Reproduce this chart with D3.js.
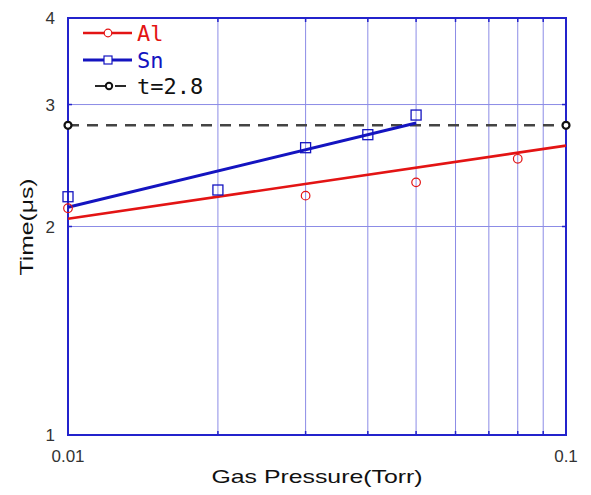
<!DOCTYPE html>
<html>
<head>
<meta charset="utf-8">
<script src="https://cdn.jsdelivr.net/npm/d3@7"></script>
<style>
  html, body { margin: 0; padding: 0; background: #fff; }
  svg { display: block; }
</style>
</head>
<body>
<svg id="chart" width="591" height="495"></svg>
<script>
// Measured points
const alPressure = [0.01, 0.03, 0.05, 0.08];
const alTime = [2.125, 2.216, 2.316, 2.505];
const snPressure = [0.01, 0.02, 0.03, 0.04, 0.05];
const snTime = [2.208, 2.258, 2.599, 2.714, 2.897];

// Power-law fit lines (straight on log-log axes)
const alFitPressure = [0.01, 0.1];
const alFitTime = [2.052, 2.617];
const snFitPressure = [0.01, 0.05];
const snFitTime = [2.132, 2.821];

// Reference level
const refPressure = [0.01, 0.1];
const refTime = [2.8, 2.8];

// Axes
const xDomain = [0.01, 0.1];
const yDomain = [1, 4];
const xGrid = [0.02, 0.03, 0.04, 0.05, 0.06, 0.07, 0.08, 0.09];
const yGrid = [2, 3];
const xTickLabels = [0.01, 0.1];
const yTickLabels = [1, 2, 3, 4];

const legendLabels = ["Al", "Sn", "t=2.8"];

const svg = d3.select("#chart");
const L = 68, R = 566, T = 18, B = 435;

const x = d3.scaleLog().domain(xDomain).range([L, R]);
const y = d3.scaleLog().domain(yDomain).range([B, T]);

const frameColor = "#2323cc";
const gridColor = "#8c8ce6";
const red = "#e31414";
const blue = "#1414c0";

// Grid
svg.append("g").selectAll("line").data(xGrid).join("line")
  .attr("x1", d => x(d)).attr("x2", d => x(d))
  .attr("y1", T).attr("y2", B)
  .attr("stroke", gridColor).attr("stroke-width", 1);
svg.append("g").selectAll("line").data(yGrid).join("line")
  .attr("x1", L).attr("x2", R)
  .attr("y1", d => y(d)).attr("y2", d => y(d))
  .attr("stroke", gridColor).attr("stroke-width", 1);

// Inner tick marks on all four sides
const tk = 4;
const ticks = svg.append("g").attr("stroke", frameColor).attr("stroke-width", 1.5);
xGrid.forEach(d => {
  ticks.append("line").attr("x1", x(d)).attr("x2", x(d)).attr("y1", B).attr("y2", B - tk);
  ticks.append("line").attr("x1", x(d)).attr("x2", x(d)).attr("y1", T).attr("y2", T + tk);
});
yGrid.forEach(d => {
  ticks.append("line").attr("x1", L).attr("x2", L + tk).attr("y1", y(d)).attr("y2", y(d));
  ticks.append("line").attr("x1", R).attr("x2", R - tk).attr("y1", y(d)).attr("y2", y(d));
});

// Frame
svg.append("rect")
  .attr("x", L).attr("y", T).attr("width", R - L).attr("height", B - T)
  .attr("fill", "none").attr("stroke", frameColor).attr("stroke-width", 2);

// Tick labels
const tickFont = "Liberation Sans, Arial, sans-serif";
svg.append("g").selectAll("text").data(yTickLabels).join("text")
  .attr("x", 55).attr("y", d => y(d))
  .attr("dy", "0.36em")
  .attr("text-anchor", "end")
  .attr("font-family", tickFont).attr("font-size", 17)
  .attr("fill", "#333")
  .text(d => d);
svg.append("g").selectAll("text").data(xTickLabels).join("text")
  .attr("x", d => x(d)).attr("y", 462)
  .attr("text-anchor", "middle")
  .attr("font-family", tickFont).attr("font-size", 17)
  .attr("fill", "#333")
  .text(d => d);

// Axis titles
svg.append("text")
  .attr("x", 317).attr("y", 483)
  .attr("text-anchor", "middle")
  .attr("font-family", tickFont).attr("font-size", 19)
  .attr("textLength", 211).attr("lengthAdjust", "spacingAndGlyphs")
  .attr("fill", "#111")
  .text("Gas Pressure(Torr)");
svg.append("text")
  .attr("transform", "translate(33,227) rotate(-90)")
  .attr("text-anchor", "middle")
  .attr("font-family", tickFont).attr("font-size", 19)
  .attr("textLength", 97).attr("lengthAdjust", "spacingAndGlyphs")
  .attr("fill", "#111")
  .text("Time(μs)");

const line = d3.line().x(d => x(d[0])).y(d => y(d[1]));
const zip = (a, b) => a.map((v, i) => [v, b[i]]);

// Reference dashed line
svg.append("path")
  .datum(zip(refPressure, refTime))
  .attr("d", line)
  .attr("fill", "none").attr("stroke", "#444")
  .attr("stroke-width", 2.5).attr("stroke-dasharray", "11,8");
svg.append("g").selectAll("circle").data(zip(refPressure, refTime)).join("circle")
  .attr("cx", d => x(d[0])).attr("cy", d => y(d[1])).attr("r", 3.5)
  .attr("fill", "#fff").attr("stroke", "#111").attr("stroke-width", 2.2);

// Fit lines
svg.append("path")
  .datum(zip(alFitPressure, alFitTime))
  .attr("d", line)
  .attr("fill", "none").attr("stroke", red).attr("stroke-width", 2.6);
svg.append("path")
  .datum(zip(snFitPressure, snFitTime))
  .attr("d", line)
  .attr("fill", "none").attr("stroke", blue).attr("stroke-width", 3);

// Markers
svg.append("g").selectAll("circle").data(zip(alPressure, alTime)).join("circle")
  .attr("cx", d => x(d[0])).attr("cy", d => y(d[1])).attr("r", 4.3)
  .attr("fill", "none").attr("stroke", red).attr("stroke-width", 1.2);
const sq = 10;
svg.append("g").selectAll("rect").data(zip(snPressure, snTime)).join("rect")
  .attr("x", d => x(d[0]) - sq / 2).attr("y", d => y(d[1]) - sq / 2)
  .attr("width", sq).attr("height", sq)
  .attr("fill", "none").attr("stroke", blue).attr("stroke-width", 1.3);

// Legend
const legFont = "DejaVu Sans Mono, monospace";
const lg = svg.append("g");
const rows = [33, 60, 86];
// Al
lg.append("line").attr("x1", 83).attr("x2", 132).attr("y1", rows[0]).attr("y2", rows[0])
  .attr("stroke", red).attr("stroke-width", 2.6);
lg.append("circle").attr("cx", 108).attr("cy", rows[0]).attr("r", 3.8)
  .attr("fill", "#fff").attr("stroke", red).attr("stroke-width", 1.2);
// Sn
lg.append("line").attr("x1", 83).attr("x2", 132).attr("y1", rows[1]).attr("y2", rows[1])
  .attr("stroke", blue).attr("stroke-width", 3);
lg.append("rect").attr("x", 104).attr("y", rows[1] - 4).attr("width", 8).attr("height", 8)
  .attr("fill", "#fff").attr("stroke", blue).attr("stroke-width", 1.2);
// t=2.8
lg.append("line").attr("x1", 95).attr("x2", 105).attr("y1", rows[2]).attr("y2", rows[2])
  .attr("stroke", "#111").attr("stroke-width", 1.8);
lg.append("line").attr("x1", 115).attr("x2", 126).attr("y1", rows[2]).attr("y2", rows[2])
  .attr("stroke", "#111").attr("stroke-width", 1.8);
lg.append("circle").attr("cx", 109).attr("cy", rows[2]).attr("r", 3.2)
  .attr("fill", "#fff").attr("stroke", "#111").attr("stroke-width", 2);

const legColors = [red, blue, "#111"];
lg.selectAll("text.lab").data(legendLabels).join("text")
  .attr("class", "lab")
  .attr("x", 137).attr("y", (d, i) => rows[i] + 8)
  .attr("font-family", legFont).attr("font-size", 22)
  .attr("fill", (d, i) => legColors[i])
  .text(d => d);
</script>
</body>
</html>
